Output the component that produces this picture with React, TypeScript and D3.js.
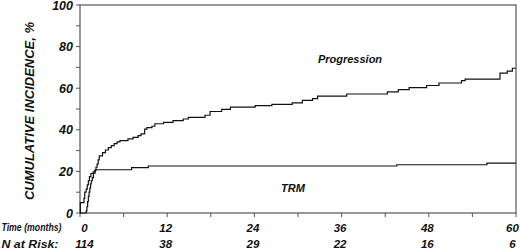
import React from "react";
import * as d3 from "d3";

const progTimes = [0, 0.85, 0.95, 1.05, 1.15, 1.25, 1.35, 1.45, 1.55, 1.7, 1.85, 2.05, 2.2, 2.35, 2.5, 2.65, 3.1, 3.5, 3.9, 4.3, 4.7, 5.1, 5.5, 6.6, 7.3, 8.0, 8.4, 8.9, 9.2, 9.9, 10.3, 11.5, 12.8, 14.2, 14.9, 17.2, 17.9, 19.5, 20.7, 24.1, 26.4, 29.2, 30.6, 32.0, 32.7, 36.7, 42.3, 43.8, 45.3, 47.7, 49.4, 52.5, 53.0, 57.8, 58.8, 59.5, 60];
const progValues = [0, 1, 3, 5.5, 8, 10, 12, 14, 15.5, 17, 19, 20.5, 22, 23.5, 25.5, 27.5, 29, 30.3, 31.4, 32.4, 33.4, 34.2, 34.8, 35.6, 36.4, 37.2, 38, 40.3, 41, 41.7, 42.9, 43.6, 44.4, 45.2, 46, 47, 48.8, 49.8, 50.9, 51.6, 52.2, 52.9, 54.1, 55.0, 56.2, 57.2, 58.2, 59.3, 60.3, 61.3, 62.5, 63.6, 64.4, 67.2, 68.2, 69.6, 69.6];

const trmTimes = [0, 0.05, 0.55, 0.65, 0.85, 1.0, 1.15, 1.3, 1.5, 1.8, 2.1, 7.1, 9.4, 43.6, 56.0, 60];
const trmValues = [0, 5, 7, 10, 11.5, 13.5, 15.5, 17.5, 19, 19.8, 20.8, 21.8, 22.6, 23.2, 24.0, 24.0];

const xTicks = [0, 12, 24, 36, 48, 60];
const xMinorTicks = [0, 6, 12, 18, 24, 30, 36, 42, 48, 54, 60];
const yTicks = [0, 20, 40, 60, 80, 100];
const yMinorTicks = [0, 10, 20, 30, 40, 50, 60, 70, 80, 90, 100];
const atRisk = [114, 38, 29, 22, 16, 6];

const FONT = "'Liberation Sans', Arial, Helvetica, sans-serif";

export default function App() {
  const W = 520, H = 251;
  const x = d3.scaleLinear().domain([0, 60]).range([80, 516]);
  const y = d3.scaleLinear().domain([0, 100]).range([213, 5]);

  const line = d3
    .line<[number, number]>()
    .x((d) => x(d[0]))
    .y((d) => y(d[1]))
    .curve(d3.curveStepAfter);

  const prog: [number, number][] = progTimes.map((t, i) => [t, progValues[i]]);
  const trm: [number, number][] = trmTimes.map((t, i) => [t, trmValues[i]]);

  const labelX = (t: number) => Math.min(Math.max(x(t) - 1.5, 84.5), 512.5);
  const txt = { fontFamily: FONT, fontWeight: 700, fontStyle: "italic", fill: "#111" } as const;
  const axisColor = "#555";

  return (
    <svg width={W} height={H} style={{ position: "absolute", left: 0, top: 0, background: "#fff" }}>
      <rect x={0} y={0} width={W} height={H} fill="#fff" />
      {/* frame */}
      <rect x={x(0)} y={y(100)} width={x(60) - x(0)} height={y(0) - y(100)} fill="none" stroke={axisColor} strokeWidth={1.2} />
      {/* y ticks */}
      {yMinorTicks.map((v) => (
        <line key={"yt" + v} x1={x(0) - 4} x2={x(0)} y1={y(v)} y2={y(v)} stroke={axisColor} strokeWidth={1} />
      ))}
      {/* x ticks */}
      {xMinorTicks.map((t) => (
        <line key={"xt" + t} x1={x(t)} x2={x(t)} y1={y(0)} y2={y(0) + 4} stroke={axisColor} strokeWidth={1} />
      ))}
      {/* y labels */}
      {yTicks.map((v) => (
        <text key={"yl" + v} x={x(0) - 7} y={y(v)} dy="0.36em" textAnchor="end" fontSize={12.5} {...txt}>
          {v}
        </text>
      ))}
      {/* y title */}
      <text transform={`translate(34,${(y(0) + y(100)) / 2 + 2}) rotate(-90)`} textAnchor="middle" fontSize={13} {...txt}>
        CUMULATIVE INCIDENCE, %
      </text>
      {/* curves */}
      <path d={line(trm) || ""} fill="none" stroke="#111" strokeWidth={1.2} />
      <path d={line(prog) || ""} fill="none" stroke="#111" strokeWidth={1.2} />
      {/* curve labels */}
      <text x={350} y={63} textAnchor="middle" fontSize={11} {...txt}>Progression</text>
      <text x={293} y={191.5} textAnchor="middle" fontSize={11} {...txt}>TRM</text>
      {/* bottom table */}
      <text x={1.5} y={231} fontSize={10} textLength={60} lengthAdjust="spacingAndGlyphs" {...txt}>Time (months)</text>
      <text x={1.5} y={248} fontSize={11} textLength={57} lengthAdjust="spacingAndGlyphs" {...txt}>N at Risk:</text>
      {xTicks.map((t) => (
        <text key={"xl" + t} x={labelX(t)} y={231.5} textAnchor="middle" fontSize={11.5} {...txt}>
          {t}
        </text>
      ))}
      {atRisk.map((n, i) => (
        <text key={"nr" + i} x={labelX(xTicks[i])} y={248} textAnchor="middle" fontSize={11.5} {...txt}>
          {n}
        </text>
      ))}
    </svg>
  );
}
